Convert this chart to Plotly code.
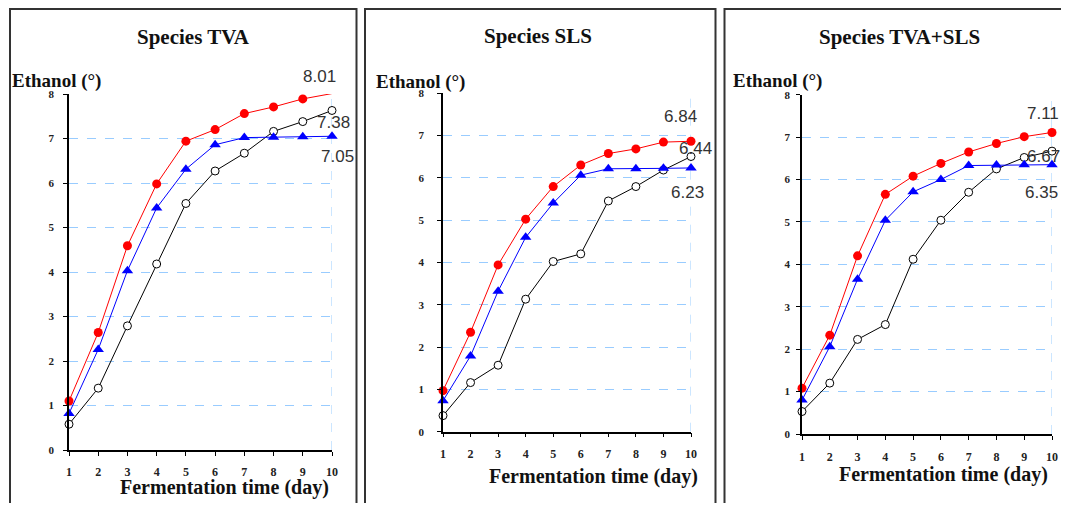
import plotly.graph_objects as go

# The page adds an 8px margin around the figure; keep the figure small enough
# that the 1069x517 window never needs scrollbars.
PAGE_W, PAGE_H = 1069, 517
OFF = 8
W, H = PAGE_W - 2 * OFF, PAGE_H - 2 * OFF - 6

days = list(range(1, 11))
x_ticks = [str(d) for d in days]
y_ticks = list(range(0, 9))

panel_titles = ["Species TVA", "Species SLS", "Species TVA+SLS"]

# Panel 1: Species TVA
tva_red = [1.10, 2.64, 4.59, 5.98, 6.94, 7.20, 7.56, 7.71, 7.89, 8.01]
tva_blue = [0.82, 2.26, 4.03, 5.44, 6.31, 6.86, 7.02, 7.03, 7.04, 7.05]
tva_black = [0.58, 1.39, 2.79, 4.18, 5.54, 6.27, 6.67, 7.16, 7.38, 7.63]
tva_labels = ["8.01", "7.38", "7.05"]

# Panel 2: Species SLS
sls_red = [0.97, 2.35, 3.94, 5.02, 5.79, 6.30, 6.57, 6.68, 6.84, 6.86]
sls_blue = [0.73, 1.79, 3.32, 4.59, 5.40, 6.06, 6.21, 6.21, 6.22, 6.23]
sls_black = [0.38, 1.16, 1.57, 3.13, 4.02, 4.20, 5.45, 5.79, 6.18, 6.50]
sls_labels = ["6.84", "6.44", "6.23"]

# Panel 3: Species TVA+SLS
mix_red = [1.08, 2.33, 4.20, 5.65, 6.08, 6.38, 6.65, 6.85, 7.01, 7.11]
mix_blue = [0.80, 2.06, 3.65, 5.04, 5.71, 6.00, 6.33, 6.34, 6.35, 6.35]
mix_black = [0.53, 1.20, 2.23, 2.58, 4.12, 5.04, 5.70, 6.25, 6.52, 6.67]
mix_labels = ["7.11", "6.67", "6.35"]

series = [
    (tva_red, tva_blue, tva_black, tva_labels),
    (sls_red, sls_blue, sls_black, sls_labels),
    (mix_red, mix_blue, mix_black, mix_labels),
]

# layout geometry (target pixels in the final page)
plot_boxes = [  # x_left, x_right, y_bottom, y_top
    (69, 332, 450, 94),
    (443, 691, 431.7, 93),
    (802, 1052, 434, 94.7),
]
borders = [(10, 356.5, True), (365, 715.5, True), (724.5, 1062, False)]
title_pos = [(193, 37), (538, 36), (899, 37)]
ylab_pos = [(10, 81), (374, 82), (731, 81)]
xlab_pos = [(225, 487), (593, 476), (943, 474)]
label_pos = [  # (x, y, anchor)
    [(319, 76, "center"), (333, 123, "center"), (337, 157, "center")],
    [(680, 117, "center"), (695, 148, "center"), (687, 193, "center")],
    [(1061, 113, "right"), (1062, 157, "right"), (1060, 193, "right")],
]
ytick_standoff = [7, 11, 4]
xtick_standoff = [6, 6, 7]


def fx(p):
    return (p - OFF) / W


def fy(p):
    return 1 - (p - OFF) / H


def px_x(p):
    return p - OFF


def px_y(p):
    return p - OFF


fig = go.Figure()
shapes = []
annotations = []
SERIF = "Liberation Serif, Times New Roman, serif"
SANS = "Liberation Sans, Arial, sans-serif"

for i, (red, blue, black, labels) in enumerate(series):
    n = "" if i == 0 else str(i + 1)
    xa, ya = "x" + n, "y" + n
    fig.add_trace(go.Scatter(x=days, y=black, mode="lines+markers", xaxis=xa, yaxis=ya,
                             line=dict(color="black", width=1),
                             marker=dict(symbol="circle", size=8, color="white",
                                         line=dict(color="black", width=1)),
                             cliponaxis=False, showlegend=False))
    fig.add_trace(go.Scatter(x=days, y=blue, mode="lines+markers", xaxis=xa, yaxis=ya,
                             line=dict(color="#0000ff", width=1),
                             marker=dict(symbol="triangle-up", size=10, color="#0000ff"),
                             cliponaxis=False, showlegend=False))
    fig.add_trace(go.Scatter(x=days, y=red, mode="lines+markers", xaxis=xa, yaxis=ya,
                             line=dict(color="#ff0000", width=1),
                             marker=dict(symbol="circle", size=9, color="#ff0000"),
                             cliponaxis=False, showlegend=False))

    xl, xr, yb, yt = plot_boxes[i]
    fig.layout["xaxis" + n] = dict(
        domain=[fx(xl), fx(xr)], range=[1, 10], anchor=ya, automargin=False,
        tickmode="array", tickvals=days, ticktext=x_ticks,
        ticks="outside", ticklen=4, tickcolor="black", tickwidth=1,
        showline=True, linecolor="black", linewidth=1.5,
        showgrid=False, zeroline=False, ticklabelstandoff=xtick_standoff[i],
        tickfont=dict(family=SERIF, size=12, color="#222", weight="bold"),
    )
    fig.layout["yaxis" + n] = dict(
        domain=[fy(yb), fy(yt)], range=[0, 8], anchor=xa, automargin=False,
        tickmode="array", tickvals=y_ticks,
        ticks="outside", ticklen=4, tickcolor="black", tickwidth=1,
        showline=True, linecolor="black", linewidth=1.5,
        showgrid=True, gridcolor="#99ccff", griddash="dash", gridwidth=1,
        zeroline=False, ticklabelstandoff=ytick_standoff[i],
        tickfont=dict(family=SERIF, size=11, color="#222", weight="bold"),
    )
    # vertical dashed gridline at last day
    shapes.append(dict(type="line", xref=xa, yref=ya, x0=days[-1], x1=days[-1],
                       y0=y_ticks[0], y1=y_ticks[-1],
                       line=dict(color="#99ccff", width=1, dash="dash"), layer="below"))
    # panel border (open at the bottom, which is cut off by the picture edge)
    bl, br, right_side = borders[i]
    x0p, x1p = fx(bl), fx(br)
    ytop, ybot = fy(9), fy(540)
    path = f"M {x0p},{ybot} L {x0p},{ytop} L {x1p},{ytop}"
    if right_side:
        path += f" L {x1p},{ybot}"
    shapes.append(dict(type="path", xref="paper", yref="paper", path=path,
                       line=dict(color="#333", width=2)))
    # texts
    tx, ty = title_pos[i]
    annotations.append(dict(text="<b>" + panel_titles[i] + "</b>", x=fx(tx), y=fy(ty),
                            xref="paper", yref="paper", xanchor="center", yanchor="middle",
                            showarrow=False, font=dict(family=SERIF, size=21, color="#111")))
    lx, ly = ylab_pos[i]
    annotations.append(dict(text="<b>Ethanol (°)</b>", x=fx(lx), y=fy(ly),
                            xref="paper", yref="paper", xanchor="left", yanchor="middle",
                            showarrow=False, font=dict(family=SERIF, size=19, color="#111")))
    cx, cy = xlab_pos[i]
    annotations.append(dict(text="<b>Fermentation time (day)</b>", x=fx(cx), y=fy(cy),
                            xref="paper", yref="paper", xanchor="center", yanchor="middle",
                            showarrow=False, font=dict(family=SERIF, size=20, color="#111")))
    for lab, (px, py, anc) in zip(labels, label_pos[i]):
        annotations.append(dict(text=lab, x=fx(px), y=fy(py), xref="paper", yref="paper",
                                xanchor=anc, yanchor="middle", showarrow=False,
                                font=dict(family=SANS, size=17, color="#333")))

fig.update_layout(
    width=W, height=H, margin=dict(l=0, r=0, t=0, b=0, pad=0), autosize=False,
    paper_bgcolor="white", plot_bgcolor="white",
    shapes=shapes, annotations=annotations,
)

fig.write_html("out.html")
